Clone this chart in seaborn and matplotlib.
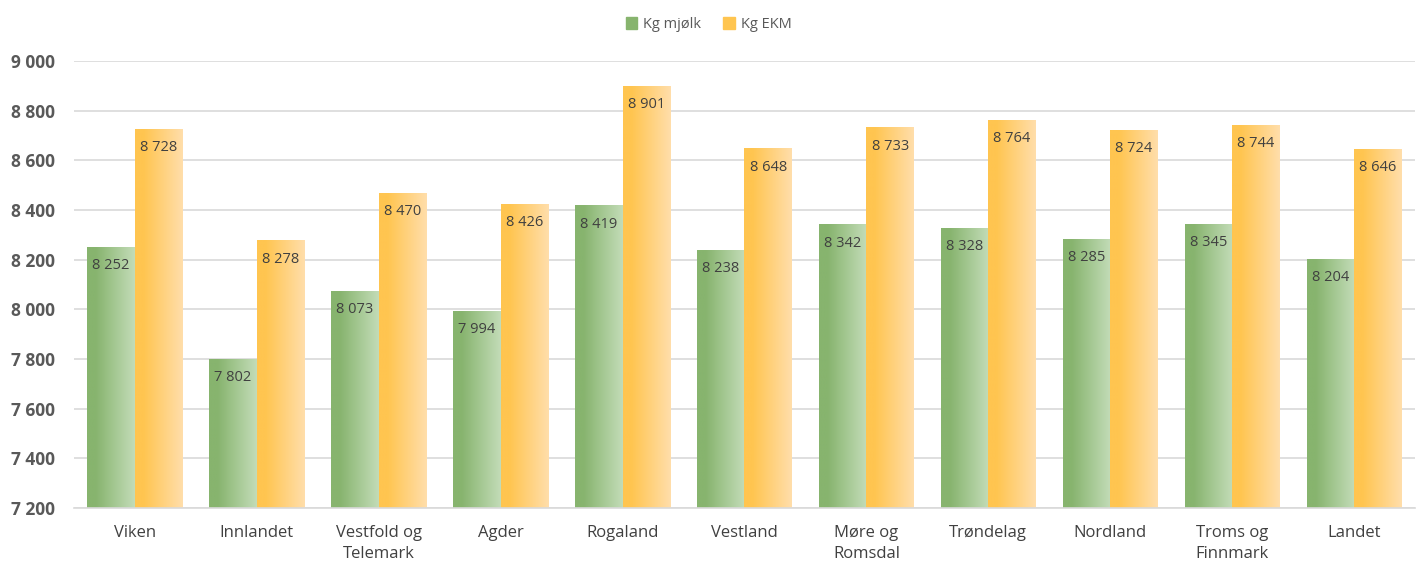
import numpy as np
import pandas as pd
import matplotlib.pyplot as plt
from matplotlib.colors import LinearSegmentedColormap
import seaborn as sns

# values
regions = ["Viken", "Innlandet", "Vestfold og\nTelemark", "Agder", "Rogaland", "Vestland",
           "Møre og\nRomsdal", "Trøndelag", "Nordland", "Troms og\nFinnmark", "Landet"]
kg_mjolk = [8252, 7802, 8073, 7994, 8419, 8238, 8342, 8328, 8285, 8345, 8204]
kg_ekm = [8728, 8278, 8470, 8426, 8901, 8648, 8733, 8764, 8724, 8744, 8646]
series = ["Kg mjølk", "Kg EKM"]

df = pd.DataFrame({
    "region": regions * 2,
    "serie": [series[0]] * len(regions) + [series[1]] * len(regions),
    "verdi": kg_mjolk + kg_ekm,
})

# gradient ends for each series (dark left -> light right)
grad = {
    series[0]: ("#87b46e", "#c3dcb8"),
    series[1]: ("#ffc550", "#ffdeab"),
}

sns.set_theme(style="white")
plt.rcParams["font.family"] = ["Open Sans", "DejaVu Sans"]

fig = plt.figure(figsize=(14.17, 5.64), dpi=100)
ax = fig.add_axes([0.0522, 0.0993, 0.9464, 0.7925])

sns.barplot(data=df, x="region", y="verdi", hue="serie", hue_order=series,
            palette=[grad[s][0] for s in series], width=0.78, ax=ax, legend=False)

ax.set_ylim(7200, 9000)
ax.set_yticks(np.arange(7200, 9001, 200))
ax.set_yticklabels([f"{v:,}".replace(",", " ") for v in range(7200, 9001, 200)],
                   fontsize=12.5, fontweight="bold", color="#595959")
ax.grid(axis="y", color="#d9d9d9", linewidth=1.2)
ax.set_axisbelow(True)
for s in ["top", "right", "left"]:
    ax.spines[s].set_visible(False)
ax.spines["bottom"].set_color("#d9d9d9")
ax.spines["bottom"].set_linewidth(1.2)
ax.tick_params(axis="x", labelsize=12, colors="#404040", pad=12, length=0)
ax.tick_params(axis="y", length=0, pad=14)
for lab in ax.get_xticklabels():
    lab.set_linespacing(1.45)
ax.set_xlabel("")
ax.set_ylabel("")

# replace flat fill with a horizontal gradient per bar, plus value labels
n = len(regions)
for i, bar in enumerate(ax.patches[:2 * n]):
    s = series[i // n]
    cmap = LinearSegmentedColormap.from_list(s, [(0, grad[s][0]), (0.18, grad[s][0]), (1, grad[s][1])])
    x0, w = bar.get_x(), bar.get_width()
    h = bar.get_height()
    img = ax.imshow(np.linspace(0, 1, 256).reshape(1, -1), cmap=cmap, aspect="auto",
                    extent=[x0, x0 + w, 7200, h], zorder=2)
    img.set_clip_path(bar)
    bar.set_facecolor("none")
    bar.set_edgecolor("none")
    ax.annotate(f"{int(h):,}".replace(",", " "), (x0 + w / 2, h), xytext=(0, -13.5),
                textcoords="offset points", ha="center", va="center",
                fontsize=10.5, color="#404040", zorder=3)
ax.set_xlim(-0.5, n - 0.5)

# legend at the top
handles = [plt.Rectangle((0, 0), 1, 1, color=grad[s][0]) for s in series]
fig.legend(handles, series, loc="upper center", bbox_to_anchor=(0.5, 0.993), ncol=2,
           frameon=False, fontsize=10.5, handlelength=0.8, handleheight=0.8,
           columnspacing=1.5, handletextpad=0.4, labelcolor="#595959")

fig.savefig("out.png", dpi=100)
